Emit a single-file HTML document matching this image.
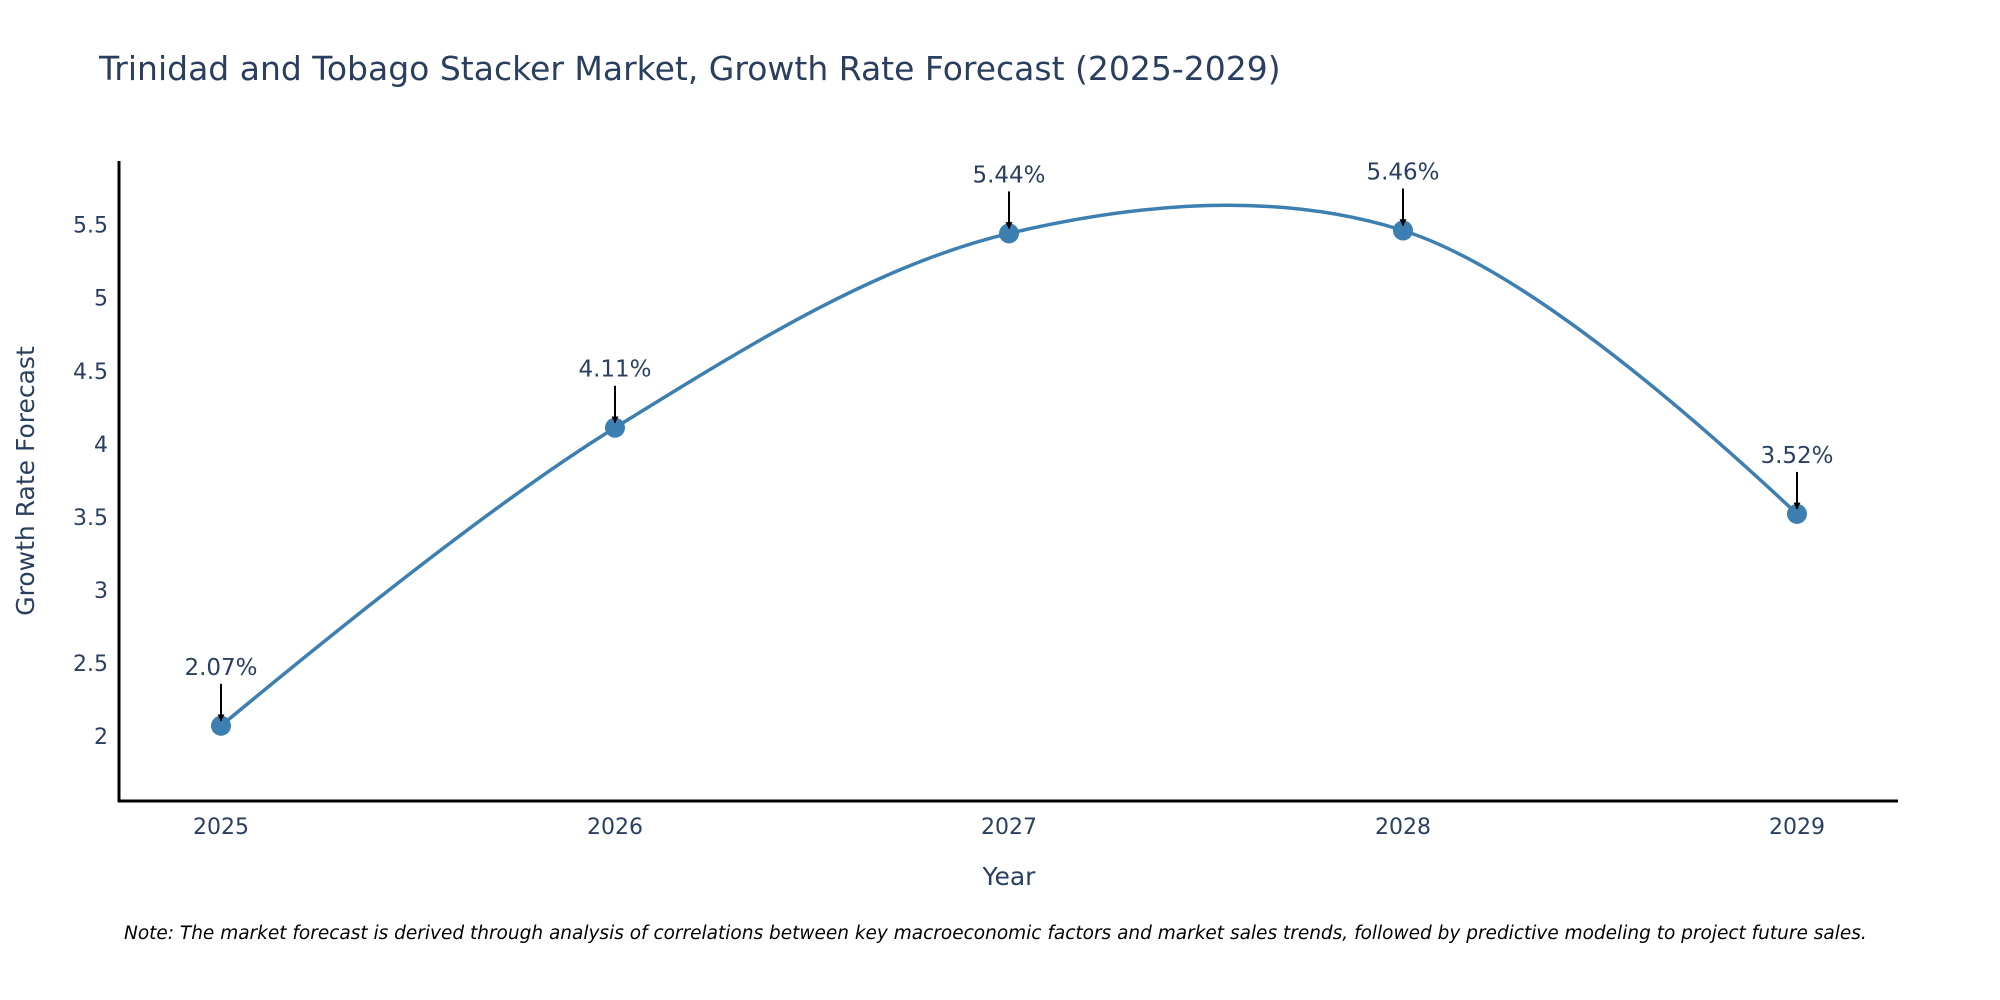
<!DOCTYPE html>
<html><head><meta charset="utf-8"><style>
html,body{margin:0;padding:0;background:#fff;}
svg{display:block;font-family:"DejaVu Sans","Liberation Sans",sans-serif;}
</style></head><body>
<svg id="chart" width="2000" height="1000" viewBox="0 0 2000 1000">
<defs><marker id="ah" viewBox="0 0 10 10" refX="9" refY="5" markerWidth="7" markerHeight="7" markerUnits="userSpaceOnUse" orient="auto"><path d="M0,0 L10,5 L0,10 z" fill="#000"/></marker></defs>
<text x="99" y="80" font-size="33" fill="#2a3f5f">Trinidad and Tobago Stacker Market, Growth Rate Forecast (2025-2029)</text>
<g id="yticks"></g>
<g id="xticks"></g>
<line x1="119" y1="161" x2="119" y2="802" stroke="#000" stroke-width="3"/>
<line x1="118" y1="801" x2="1898" y2="801" stroke="#000" stroke-width="3"/>
<path id="line" fill="none" stroke="#3d7fb0" stroke-width="3.5"/>
<g id="marks"></g>
<text x="0" y="0" transform="translate(34,481) rotate(-90)" text-anchor="middle" font-size="25" fill="#2a3f5f">Growth Rate Forecast</text>
<text x="1009" y="885" text-anchor="middle" font-size="25" fill="#2a3f5f">Year</text>
<text x="124" y="939" font-size="18.5" font-style="italic" fill="#000">Note: The market forecast is derived through analysis of correlations between key macroeconomic factors and market sales trends, followed by predictive modeling to project future sales.</text>
</svg>
<script>
const years = [2025, 2026, 2027, 2028, 2029];
const values = [2.07, 4.11, 5.44, 5.46, 3.52];
const yTicks = [2, 2.5, 3, 3.5, 4, 4.5, 5, 5.5];
const yTickLabels = ["2", "2.5", "3", "3.5", "4", "4.5", "5", "5.5"];

const NS = "http://www.w3.org/2000/svg";
function xs(i){ return 221 + i * 394; }
function ys(v){ return 736 - (v - 2) * 146.1; }
function mk(tag, attrs, parent){ const e=document.createElementNS(NS,tag); for(const k in attrs) e.setAttribute(k,attrs[k]); parent.appendChild(e); return e; }

const yt=document.getElementById('yticks');
yTicks.forEach((v,i)=>{
  const t=mk('text',{x:108,y:ys(v)+8,'text-anchor':'end','font-size':22,fill:'#2a3f5f'},yt);
  
  
  t.textContent=yTickLabels[i];
});
const xt=document.getElementById('xticks');
years.forEach((yr,i)=>{
  const t=mk('text',{x:xs(i),y:834,'text-anchor':'middle','font-size':22,fill:'#2a3f5f'},xt);
  
  
  t.textContent=String(yr);
});

const pts=values.map((v,i)=>[xs(i),ys(v)]);
function cp(p0,p1,p2,s){
  const d1x=p0[0]-p1[0],d1y=p0[1]-p1[1],d2x=p2[0]-p1[0],d2y=p2[1]-p1[1];
  const d1a=Math.pow(d1x*d1x+d1y*d1y,0.25),d2a=Math.pow(d2x*d2x+d2y*d2y,0.25);
  const nx=(d2a*d2a*d1x-d1a*d1a*d2x)*s,ny=(d2a*d2a*d1y-d1a*d1a*d2y)*s;
  const a=3*d2a*(d1a+d2a),b=3*d1a*(d1a+d2a);
  return [[p1[0]+nx/a,p1[1]+ny/a],[p1[0]-nx/b,p1[1]-ny/b]];
}
const tg=[];
for(let i=1;i<pts.length-1;i++) tg.push(cp(pts[i-1],pts[i],pts[i+1],1));
let d='M'+pts[0]+' Q'+tg[0][0]+' '+pts[1];
for(let i=1;i<pts.length-2;i++) d+=' C'+tg[i-1][1]+' '+tg[i][0]+' '+pts[i+1];
d+=' Q'+tg[tg.length-1][1]+' '+pts[pts.length-1];
document.getElementById('line').setAttribute('d',d);

const g=document.getElementById('marks');
pts.forEach((p,i)=>{
  const c=mk('circle',{cx:p[0],cy:p[1],r:10,fill:'#3d7fb0'},g);
  
  
  const a=mk('line',{x1:p[0],y1:p[1]-42,x2:p[0],y2:p[1]-5,stroke:'#000','stroke-width':2,'marker-end':'url(#ah)'},g);
  
  
  const t=mk('text',{x:p[0],y:p[1]-51,'text-anchor':'middle','font-size':23,fill:'#2a3f5f'},g);
  
  
  t.textContent=values[i].toFixed(2)+'%';
});
</script>
</body></html>
